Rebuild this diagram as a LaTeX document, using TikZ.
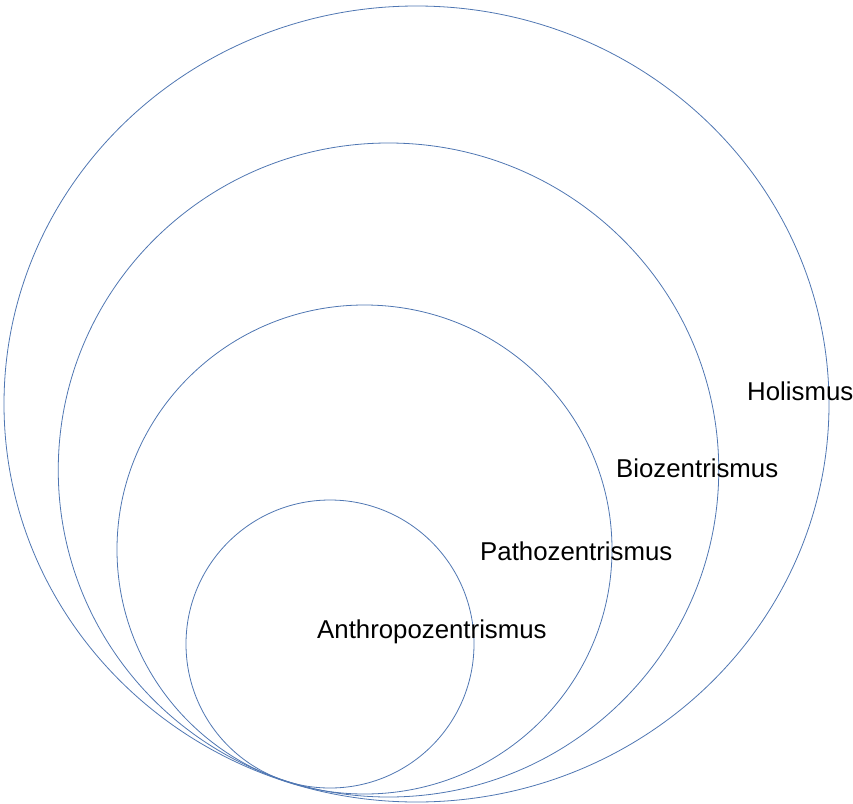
\documentclass[tikz,border=0pt]{standalone}
\usepackage{fontspec}
\setmainfont{Liberation Sans}
\usetikzlibrary{shapes.geometric}
\definecolor{ringblue}{HTML}{4F76B2}
\tikzset{
  ring/.style={ellipse, draw=ringblue, line width=0.8pt, inner sep=0pt, outer sep=0pt},
  lbl/.style={anchor=base west, inner sep=0pt, font=\fontsize{25.8}{30}\selectfont, text=black}
}
\begin{document}
\begin{tikzpicture}[x=1pt,y=-1pt]
\useasboundingbox (0,0) rectangle (853,803);
\node[ring, minimum width=825pt, minimum height=796pt] (c1) at (416.5,404) {};
\node[ring, minimum width=660.5pt, minimum height=654pt] (c2) at (388.5,470) {};
\node[ring, minimum width=495pt, minimum height=489pt] (c3) at (364.5,549.5) {};
\node[ring, minimum width=288pt, minimum height=288pt] (c4) at (330,644) {};
\node[lbl] (holismus) at (747,400) {Holismus};
\node[lbl] (bio) at (616,477) {Biozentrismus};
\node[lbl] (patho) at (480,560) {Pathozentrismus};
\node[lbl] (anthro) at (317,638) {Anthropozentrismus};
\end{tikzpicture}
\end{document}
